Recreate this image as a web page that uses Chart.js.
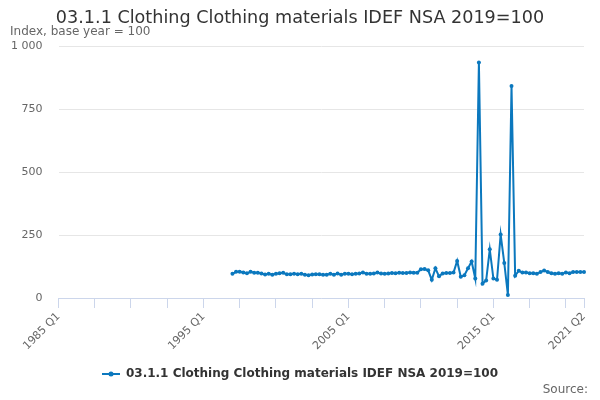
<!DOCTYPE html>
<html>
<head>
<meta charset="utf-8">
<script src="https://cdn.jsdelivr.net/npm/chart.js@4.4.1/dist/chart.umd.min.js"></script>
<style>
html,body{margin:0;padding:0;background:#fff;}
#wrap{width:600px;height:400px;}
</style>
</head>
<body>
<div id="wrap"><canvas id="c" width="600" height="400"></canvas></div>
<script>
// ---- data ----
const chartTitle = '03.1.1 Clothing Clothing materials IDEF NSA 2019=100';
const yAxisTitle = 'Index, base year = 100';
const seriesName = '03.1.1 Clothing Clothing materials IDEF NSA 2019=100';
const sourceText = 'Source:';
const firstYear = 1985;
const lastYear = 2021;
const lastQuarter = 2;
const seriesStart = '1997 Q1';
// values from 1997 Q1 to 2021 Q2
const seriesValues = [
  96,104,104,101,98,104,100,100,97,93,96,92,96,98,100,94,94,96,94,96,92,90,
  93,94,94,92,92,96,92,97,92,96,96,94,96,97,101,96,96,97,101,97,96,97,
  99,98,100,99,99,101,
  100,100,114,115,110,72,118,86,97,99,99,101,147,84,90,118,145,77,935,57,
  69,193,77,72,252,139,12,841,88,108,
  101,101,98,98,96,103,109,103,98,96,98,96,101,98,103,103,103,103
];
const yTicks = [0, 250, 500, 750, 1000];
const labeledTicks = ['1985 Q1', '1995 Q1', '2005 Q1', '2015 Q1', '2021 Q2'];

// ---- build categories ----
const categories = [];
for (let y = firstYear; y <= lastYear; y++) {
  for (let q = 1; q <= 4; q++) {
    if (y === lastYear && q > lastQuarter) break;
    categories.push(y + ' Q' + q);
  }
}
const startIdx = categories.indexOf(seriesStart);
const data = categories.map((c, i) => (i < startIdx ? null : seriesValues[i - startIdx]));

const lineColor = '#0b78be';

// legend symbol: line with a dot
const sym = document.createElement('canvas');
sym.width = 18; sym.height = 10;
(function () {
  const g = sym.getContext('2d');
  g.strokeStyle = lineColor; g.lineWidth = 2;
  g.beginPath(); g.moveTo(0, 5); g.lineTo(18, 5); g.stroke();
  g.fillStyle = lineColor;
  g.beginPath(); g.arc(9, 5, 2.5, 0, Math.PI * 2); g.fill();
})();

const textPlugin = {
  id: 'texts',
  afterLayout(chart) {
    // centre the legend row on the full canvas width
    if (chart.legend) { chart.legend.left = 16; }
  },
  afterDraw(chart) {
    const ctx = chart.ctx;
    ctx.save();
    ctx.textBaseline = 'middle';
    ctx.fillStyle = '#333333';
    ctx.font = '17.6px "DejaVu Sans"';
    ctx.textAlign = 'center';
    ctx.fillText(chartTitle, 300, 18);
    ctx.fillStyle = '#666666';
    ctx.font = '12px "DejaVu Sans"';
    ctx.textAlign = 'left';
    ctx.fillText(yAxisTitle, 10, 32);
    ctx.textAlign = 'right';
    ctx.fillText(sourceText, 588, 390);
    ctx.restore();
  }
};

function fmt(v) {
  return String(v).replace(/\B(?=(\d{3})+(?!\d))/g, ' ');
}

new Chart(document.getElementById('c'), {
  type: 'line',
  data: {
    labels: categories,
    datasets: [{
      label: seriesName,
      data: data,
      borderColor: lineColor,
      backgroundColor: lineColor,
      borderWidth: 2,
      pointRadius: 2,
      pointHoverRadius: 3,
      pointBorderWidth: 0,
      tension: 0,
      spanGaps: false
    }]
  },
  options: {
    responsive: false,
    animation: false,
    devicePixelRatio: 1,
    layout: { padding: { top: 46, right: 16, bottom: 10, left: 0 } },
    plugins: {
      title: { display: false },
      tooltip: { enabled: false },
      legend: {
        position: 'bottom',
        labels: {
          usePointStyle: true,
          pointStyle: sym,
          pointStyleWidth: 18,
          color: '#333333',
          font: { family: 'DejaVu Sans', size: 12, weight: 'bold' },
          padding: 10
        }
      }
    },
    scales: {
      x: {
        type: 'category',
        offset: false,
        afterFit(s) { s.height = 60; },
        border: { display: true, color: '#ccd6eb', width: 1 },
        grid: {
          drawOnChartArea: false,
          drawTicks: true,
          tickLength: 10,
          color: (ctx) => (ctx.index % 10 === 0 || ctx.index === categories.length - 1 ? '#ccd6eb' : 'rgba(0,0,0,0)')
        },
        ticks: {
          autoSkip: false,
          maxRotation: 45,
          minRotation: 45,
          padding: 2,
          color: '#666666',
          font: { family: 'DejaVu Sans', size: 11 },
          callback(value, index) {
            const l = categories[index];
            return labeledTicks.includes(l) ? l : '';
          }
        }
      },
      y: {
        min: 0,
        max: 1000,
        afterFit(s) { s.width = 58.5; },
        afterBuildTicks(s) { s.ticks = yTicks.map(v => ({ value: v })); },
        border: { display: false },
        grid: { color: '#e6e6e6', drawTicks: false, lineWidth: 1 },
        ticks: {
          padding: 16,
          color: '#666666',
          font: { family: 'DejaVu Sans', size: 11 },
          callback: (v) => fmt(v)
        }
      }
    }
  },
  plugins: [textPlugin]
});
</script>
</body>
</html>
